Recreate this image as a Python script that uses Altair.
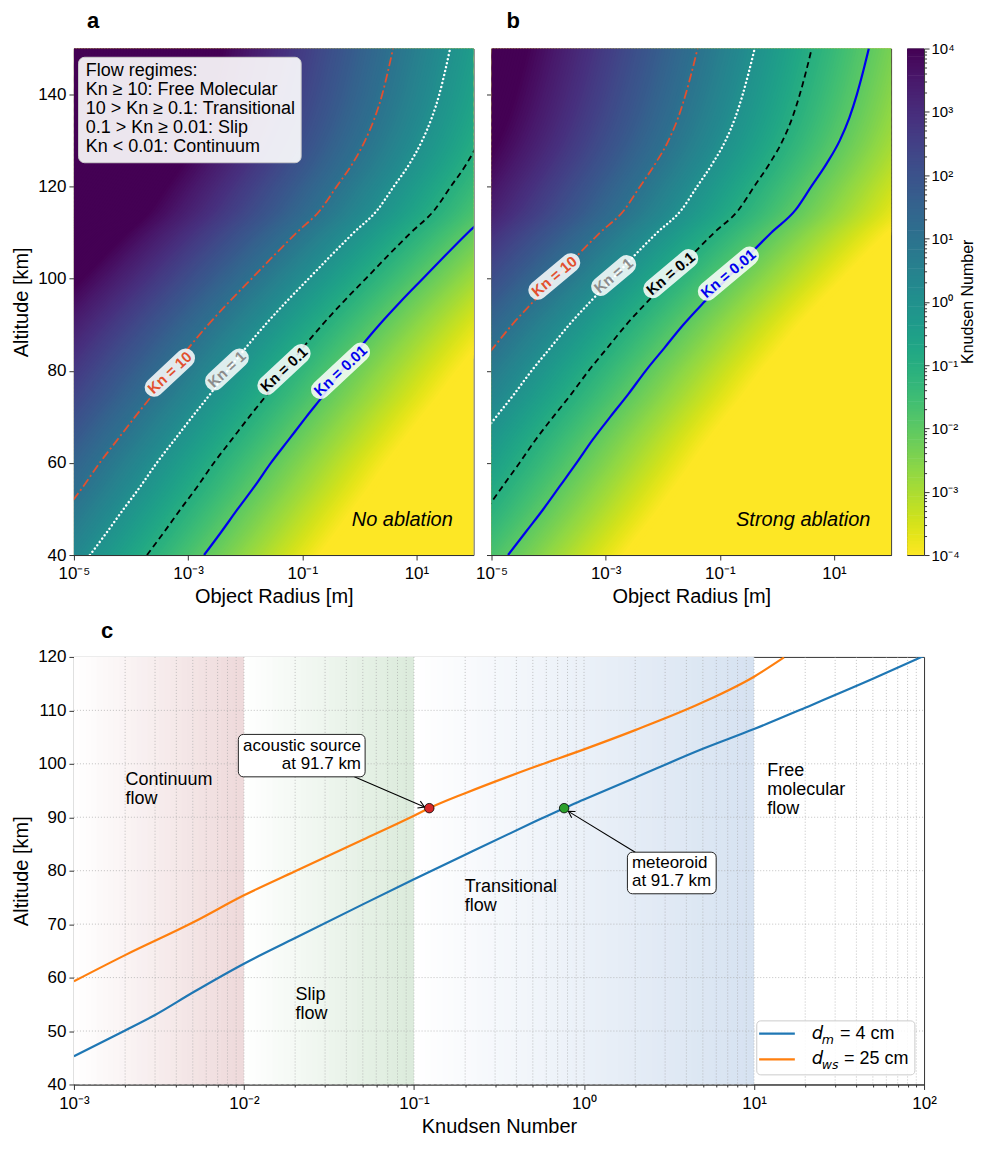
import altair as alt
import numpy as np
import pandas as pd

FONT = "Liberation Sans"

# ------------------------------------------------------------------
# Panels a & b : Knudsen number = mean free path / object radius.
# For each altitude, log10 of the object radius [m] at which Kn = 1
# (read from the contour lines of the picture).
# ------------------------------------------------------------------
altitude_km = [40, 45, 50, 55, 60, 65, 70, 75, 80, 85, 90, 95, 100,
               105, 110, 115, 120, 125, 130, 135, 140, 145, 150]
logR_kn1_no_ablation = [-4.72, -4.42, -4.13, -3.83, -3.55, -3.24, -2.93, -2.61, -2.31,
                        -1.99, -1.65, -1.28, -0.89, -0.50, -0.10, 0.32, 0.60, 0.88,
                        1.10, 1.27, 1.40, 1.50, 1.59]
logR_kn1_strong_ablation = [-6.71, -6.40, -6.09, -5.80, -5.51, -5.23, -4.92, -4.60, -4.30,
                            -3.97, -3.64, -3.27, -2.88, -2.50, -2.10, -1.67, -1.40, -1.13,
                            -0.90, -0.73, -0.60, -0.49, -0.39]

contour_kn = [10, 1, 0.1, 0.01]
contour_text = ["Kn = 10", "Kn = 1", "Kn = 0.1", "Kn = 0.01"]
label_logR_a = [-3.32, -2.32, -1.32, -0.33]
label_alt_a = [79.6, 80.3, 80.3, 80.0]
label_logR_b = [-3.90, -2.86, -1.86, -0.85]
label_alt_b = [100.5, 100.7, 101.1, 101.1]

regime_lines = ["Flow regimes:", "Kn \u2265 10: Free Molecular", "10 > Kn \u2265 0.1: Transitional",
                "0.1 > Kn \u2265 0.01: Slip", "Kn < 0.01: Continuum"]

radius_ticks = [1e-5, 1e-3, 1e-1, 1e1]
altitude_ticks_ab = [40, 60, 80, 100, 120, 140]
cbar_major = [1e-4, 1e-3, 1e-2, 1e-1, 1e0, 1e1, 1e2, 1e3, 1e4]
cbar_minor = [m * 10.0 ** e for e in range(-4, 4) for m in range(2, 10)]

# ------------------------------------------------------------------
# Panel c
# ------------------------------------------------------------------
kn_meteoroid = [0.001, 0.002, 0.003, 0.005, 0.01, 0.02, 0.05, 0.1, 0.2, 0.5, 0.764,
                1, 2, 5, 10, 20, 50, 100]
alt_meteoroid = [45.3, 50.1, 53.0, 57.2, 62.6, 67.4, 73.7, 78.4, 83.0, 89.0, 91.7,
                 93.3, 97.4, 102.8, 106.5, 110.5, 115.9, 120.2]
kn_source = [0.001, 0.002, 0.005, 0.01, 0.02, 0.05, 0.1, 0.123, 0.2, 0.5, 1, 2, 5, 10, 15]
alt_source = [59.3, 64.2, 70.3, 75.4, 79.9, 85.8, 90.3, 91.7, 94.5, 99.3, 102.7, 106.3,
              111.5, 116.3, 119.9]

marker_kn = [0.123, 0.764]
marker_alt = [91.7, 91.7]

regime_start = [1e-3, 1e-2, 1e-1]
regime_end = [1e-2, 1e-1, 1e1]

region_text = [["Continuum", "flow"], ["Slip", "flow"], ["Transitional", "flow"],
               ["Free", "molecular", "flow"]]
region_kn = [0.00201, 0.0201, 0.199, 11.97]
region_alt = [96.95, 56.74, 77.0, 98.6]

c_major = [1e-3, 1e-2, 1e-1, 1e0, 1e1, 1e2]
c_minor = [m * 10.0 ** e for e in range(-3, 2) for m in range(2, 10)]
c_alt_ticks = [40, 50, 60, 70, 80, 90, 100, 110, 120]

# ------------------------------------------------------------------
# styles / layout
# ------------------------------------------------------------------
W_A, W_B, H_AB, W_CB = 400, 400, 507, 17
GAP_AB, GAP_CB = 18, 16
W_C, H_C = W_A + GAP_AB + W_B + GAP_CB + W_CB, 428

contour_color = ["#e2502f", "#ffffff", "#000000", "#0000ee"]
label_color = ["#e2502f", "#8c8c8c", "#000000", "#0000ee"]
contour_dash = [[9, 3, 2, 3], [0.1, 4], [6, 4], None]
contour_width = [1.8, 2.4, 1.8, 2.2]
label_width_px = [54, 45, 58, 66]

SUP = "['\u2070','\u00b9','\u00b2','\u00b3','\u2074','\u2075','\u2076','\u2077','\u2078','\u2079']"
EXP = "round(log(datum.value)/LN10)"
POW = "'10' + (" + EXP + " < 0 ? '\u207b' : '') + " + SUP + "[abs(" + EXP + ")]"
IS_MAJOR = "abs(log(datum.value)/LN10 - " + EXP + ") < 0.001"
POW_MAJOR_ONLY = IS_MAJOR + " ? (" + POW + ") : ''"

CS = alt.Scale(scheme="viridis", reverse=True, domain=[-4, 4], clamp=True)
VIRIDIS_END = "#fde725"


def blend(tint, f):
    r, g, b = int(tint[1:3], 16), int(tint[3:5], 16), int(tint[5:7], 16)
    return "#%02x%02x%02x" % (round(255 + (r - 255) * f), round(255 + (g - 255) * f),
                              round(255 + (b - 255) * f))


def heat_panel(L, lab_logR, lab_alt, lab_ccw, letter, letter_dx, note, width, first):
    XS = alt.Scale(type="log", domain=[1e-5, 1e2], nice=False)
    YS = alt.Scale(domain=[40, 150], nice=False, zero=False)
    xax = alt.Axis(values=radius_ticks, labelExpr=POW, title="Object Radius [m]",
                   tickSize=5, labelPadding=6, titlePadding=5)
    if first:
        yax = alt.Axis(values=altitude_ticks_ab, title="Altitude [km]", tickSize=5,
                       labelPadding=3, titlePadding=6)
    else:
        yax = alt.Axis(values=altitude_ticks_ab, title=None, labels=False, tickSize=5)

    def X(f, **kw):
        return alt.X(f, type="quantitative", scale=XS, axis=xax, **kw)

    def Y(f):
        return alt.Y(f, type="quantitative", scale=YS, axis=yax)

    # background (Kn below the colour range)
    bg = alt.Chart(pd.DataFrame({"t": [0]})).mark_rect(color=VIRIDIS_END).encode(
        x=alt.value(0), x2=alt.value(width), y=alt.value(0), y2=alt.value(H_AB))

    # the field: iso-Kn lines every 0.05 decade, thick enough to tile the panel
    cmax = max(L) + 5.0 + 0.1
    levels = np.round(np.arange(-4.1, cmax, 0.05), 2)
    rows = []
    for c in levels:
        for h, l in zip(altitude_km, L):
            rows.append({"lvl": float(c), "kn_col": float(min(max(c, -4.0), 4.0)),
                         "alt": h, "r": 10 ** (l - c)})
    heat = alt.Chart(pd.DataFrame(rows)).mark_line(
        clip=True, strokeWidth=4.2, strokeCap="square", strokeJoin="round",
        interpolate="monotone").encode(
        x=X("r"), y=Y("alt"),
        color=alt.Color("kn_col:Q", scale=CS, legend=None),
        detail="lvl:Q", order=alt.Order("alt:Q"))
    layers = [bg, heat]

    for k, col, dash, wdt in zip(contour_kn, contour_color, contour_dash, contour_width):
        df = pd.DataFrame({"alt": altitude_km, "r": [10 ** (l - np.log10(k)) for l in L]})
        kw = dict(color=col, strokeWidth=wdt, clip=True, interpolate="monotone")
        if dash is not None:
            kw["strokeDash"] = dash
        if k == 1:
            kw["strokeCap"] = "round"
        layers.append(alt.Chart(df).mark_line(**kw).encode(
            x=X("r"), y=Y("alt"), order=alt.Order("alt:Q")))

    ppd = width / 7.0
    ppk = H_AB / 110.0
    th = np.radians(lab_ccw)
    for txt, lr, la, tw, tc in zip(contour_text, lab_logR, lab_alt, label_width_px, label_color):
        half = tw / 2 + 4 - 9.5
        dlr = np.cos(th) * half / ppd
        dal = np.sin(th) * half / ppk
        bgl = pd.DataFrame({"r1": [10 ** (lr - dlr)], "r2": [10 ** (lr + dlr)],
                            "a1": [la - dal], "a2": [la + dal]})
        layers.append(alt.Chart(bgl).mark_rule(color="white", opacity=0.85, strokeWidth=19,
                                               strokeCap="round").encode(
            x=X("r1"), x2="r2", y=Y("a1"), y2="a2"))
        td = pd.DataFrame({"r": [10 ** lr], "alt": [la], "t": [txt]})
        layers.append(alt.Chart(td).mark_text(color=tc, fontWeight="bold", fontSize=15,
                                              angle=360 - lab_ccw, align="center",
                                              baseline="middle").encode(
            x=X("r"), y=Y("alt"), text="t:N"))

    if first:
        box = pd.DataFrame({"r1": [10 ** -4.919], "r2": [10 ** -1.02], "a1": [125.2], "a2": [148.1]})
        layers.append(alt.Chart(box).mark_rect(fill="white", fillOpacity=0.9, stroke="#cccccc",
                                               strokeWidth=1, cornerRadius=6).encode(
            x=X("r1"), x2="r2", y=Y("a1"), y2="a2"))
        lg = pd.DataFrame({"t": [regime_lines], "r": [10 ** -4.793], "alt": [145.06]})
        layers.append(alt.Chart(lg).mark_text(align="left", baseline="middle", fontSize=18,
                                              lineHeight=19, color="black").encode(
            x=X("r"), y=Y("alt"), text="t"))

    nd = pd.DataFrame({"t": [note], "r": [10 ** 1.637], "alt": [46.2]})
    layers.append(alt.Chart(nd).mark_text(align="right", baseline="alphabetic", fontSize=20,
                                          fontStyle="italic", color="black").encode(
        x=X("r"), y=Y("alt"), text="t:N"))

    return alt.layer(*layers).properties(
        width=width, height=H_AB,
        title=alt.TitleParams(letter, anchor="start", frame="group", dx=letter_dx, offset=16,
                              fontSize=22, fontWeight="bold", font=FONT, color="black"))


panel_a = heat_panel(logR_kn1_no_ablation, label_logR_a, label_alt_a, 43, "a", 13,
                     "No ablation", W_A, True)
panel_b = heat_panel(logR_kn1_strong_ablation, label_logR_b, label_alt_b, 40, "b", 15,
                     "Strong ablation", W_B, False)

# ---------------- colour bar ----------------
cb_vals = np.round(np.arange(-4.0, 4.0001, 0.05), 2)
cb_df = pd.DataFrame({"kn_col": cb_vals, "lo": 10 ** (cb_vals - 0.03), "hi": 10 ** (cb_vals + 0.03)})
cb_axis = alt.Axis(orient="right", values=cbar_major + cbar_minor, labelExpr=POW_MAJOR_ONLY,
                   tickSize={"condition": {"test": IS_MAJOR, "value": 5}, "value": 2.5},
                   title=None, domain=False, labelPadding=2, labelFontSize=15)
cbar_rect = alt.Chart(cb_df).mark_rect(clip=True).encode(
    x=alt.value(0), x2=alt.value(W_CB),
    y=alt.Y("lo:Q", scale=alt.Scale(type="log", domain=[1e-4, 1e4], nice=False), axis=cb_axis),
    y2="hi", color=alt.Color("kn_col:Q", scale=CS, legend=None))
cbar_title = alt.Chart(pd.DataFrame({"t": ["Knudsen Number"]})).mark_text(
    angle=270, fontSize=16, align="center", baseline="middle", color="black").encode(
    text="t:N", x=alt.value(W_CB + 44), y=alt.value(H_AB / 2))
cbar_pad = alt.Chart(pd.DataFrame({"t": [0]})).mark_rule(strokeOpacity=0, opacity=0).encode(
    x=alt.value(-GAP_CB + 2), x2=alt.value(0), y=alt.value(2))
cbar = alt.layer(cbar_rect, cbar_title, cbar_pad).properties(width=W_CB, height=H_AB)

# ---------------- panel c ----------------
XS_C = alt.Scale(type="log", domain=[1e-3, 1e2], nice=False)
YS_C = alt.Scale(domain=[40, 120], nice=False, zero=False)
xax_c = alt.Axis(values=c_major + c_minor, labelExpr=POW_MAJOR_ONLY,
                 tickSize={"condition": {"test": IS_MAJOR, "value": 5}, "value": 2.5},
                 title="Knudsen Number", labelPadding=6, titlePadding=5)
yax_c = alt.Axis(values=c_alt_ticks, title="Altitude [km]", tickSize=5, labelPadding=3,
                 titlePadding=6)


def XC(f):
    return alt.X(f, type="quantitative", scale=XS_C, axis=xax_c)


def YC(f):
    return alt.Y(f, type="quantitative", scale=YS_C, axis=yax_c)


regime_tint = ["#eed9da", "#dbebdb", "#d6e2f1"]
strips = []
for s, e, tint in zip(regime_start, regime_end, regime_tint):
    dec = np.log10(e / s)
    n = int(round(30 * dec))
    for i in range(n):
        x1 = s * 10 ** (i * dec / n)
        x2 = min(e, s * 10 ** ((i + 1.5) * dec / n))
        strips.append({"x1": x1, "x2": x2, "col": blend(tint, (i + 0.5) / n)})
shade = alt.Chart(pd.DataFrame(strips)).mark_rect(clip=True).encode(
    x=XC("x1"), x2="x2", y=alt.value(0), y2=alt.value(H_C),
    color=alt.Color("col:N", scale=None))

grid_v = alt.Chart(pd.DataFrame({"g": [v for v in c_major + c_minor if 1e-3 < v < 1e2]})).mark_rule(
    color="#a8a8a8", strokeWidth=0.7, strokeDash=[1, 2]).encode(
    x=XC("g"), y=alt.value(0), y2=alt.value(H_C))
grid_h = alt.Chart(pd.DataFrame({"g": c_alt_ticks[1:-1]})).mark_rule(
    color="#a8a8a8", strokeWidth=0.7, strokeDash=[1, 2]).encode(
    y=YC("g"), x=alt.value(0), x2=alt.value(W_C))

line_m = alt.Chart(pd.DataFrame({"kn": kn_meteoroid, "alt": alt_meteoroid})).mark_line(
    color="#1f77b4", strokeWidth=2.2, clip=True, interpolate="monotone").encode(
    x=XC("kn"), y=YC("alt"), order=alt.Order("kn:Q"))
line_s = alt.Chart(pd.DataFrame({"kn": kn_source, "alt": alt_source})).mark_line(
    color="#ff7f0e", strokeWidth=2.2, clip=True, interpolate="monotone").encode(
    x=XC("kn"), y=YC("alt"), order=alt.Order("kn:Q"))

arrows = pd.DataFrame({"x1": [0.0446, 2.0], "y1": [97.56, 83.46],
                       "x2": [0.1153, 0.809], "y2": [91.92, 91.1], "ang": [23.4, 211.5]})
arrow_lines = alt.Chart(arrows).mark_rule(color="black", strokeWidth=1.1).encode(
    x=XC("x1"), x2="x2", y=YC("y1"), y2="y2")
arrow_heads = alt.Chart(arrows).mark_point(shape="M -1 -0.6 L 0 0 L -1 0.6", filled=False,
                                           color="black", strokeWidth=1.1, size=150, opacity=1).encode(
    x=XC("x2"), y=YC("y2"), angle=alt.Angle("ang:Q", scale=None))

dots = alt.Chart(pd.DataFrame({"kn": marker_kn, "alt": marker_alt,
                               "col": ["#d62728", "#2ca02c"]})).mark_point(
    filled=True, size=90, stroke="black", strokeWidth=0.8, opacity=1).encode(
    x=XC("kn"), y=YC("alt"), fill=alt.Fill("col:N", scale=None))

boxes = alt.Chart(pd.DataFrame({"x1": [0.00927, 1.80], "x2": [0.0516, 5.99],
                                "y1": [97.56, 75.68], "y2": [105.5, 83.46]})).mark_rect(
    fill="white", stroke="#222222", strokeWidth=1, cornerRadius=5).encode(
    x=XC("x1"), x2="x2", y=YC("y1"), y2="y2")
box_text_r = alt.Chart(pd.DataFrame({"t": [["acoustic source", "at 91.7 km"]], "kn": [0.0488],
                                     "alt": [103.4]})).mark_text(
    align="right", baseline="middle", fontSize=17, lineHeight=18.5, color="black").encode(
    x=XC("kn"), y=YC("alt"), text="t")
box_text_l = alt.Chart(pd.DataFrame({"t": [["meteoroid", "at 91.7 km"]], "kn": [1.914],
                                     "alt": [81.5]})).mark_text(
    align="left", baseline="middle", fontSize=17, lineHeight=18.5, color="black").encode(
    x=XC("kn"), y=YC("alt"), text="t")

regions = alt.Chart(pd.DataFrame({"t": region_text, "kn": region_kn, "alt": region_alt})).mark_text(
    align="left", baseline="middle", fontSize=18, lineHeight=19, color="black").encode(
    x=XC("kn"), y=YC("alt"), text="t")

leg_box = alt.Chart(pd.DataFrame({"x1": [10 ** 1.016], "x2": [10 ** 1.946],
                                  "y1": [41.8], "y2": [51.9]})).mark_rect(
    fill="white", fillOpacity=0.85, stroke="#cccccc", strokeWidth=1, cornerRadius=4).encode(
    x=XC("x1"), x2="x2", y=YC("y1"), y2="y2")
leg_l1 = alt.Chart(pd.DataFrame({"x1": [10 ** 1.03], "x2": [10 ** 1.24], "y": [49.5]})).mark_rule(
    color="#1f77b4", strokeWidth=2.2).encode(x=XC("x1"), x2="x2", y=YC("y"))
leg_l2 = alt.Chart(pd.DataFrame({"x1": [10 ** 1.03], "x2": [10 ** 1.24], "y": [44.7]})).mark_rule(
    color="#ff7f0e", strokeWidth=2.2).encode(x=XC("x1"), x2="x2", y=YC("y"))
leg_d = alt.Chart(pd.DataFrame({"t": ["d", "d"], "kn": [10 ** 1.34] * 2, "alt": [49.5, 44.7]})).mark_text(
    align="left", baseline="middle", fontSize=18, fontStyle="italic", font="DejaVu Sans",
    color="black").encode(x=XC("kn"), y=YC("alt"), text="t:N")
leg_sub = alt.Chart(pd.DataFrame({"t": ["m", "ws"], "kn": [10 ** 1.399] * 2,
                                  "alt": [48.4, 43.6]})).mark_text(
    align="left", baseline="middle", fontSize=12.5, fontStyle="italic", font="DejaVu Sans",
    color="black").encode(x=XC("kn"), y=YC("alt"), text="t:N")
leg_rest = alt.Chart(pd.DataFrame({"t": ["= 4 cm", "= 25 cm"], "kn": [10 ** 1.506, 10 ** 1.529],
                                   "alt": [49.5, 44.7]})).mark_text(
    align="left", baseline="middle", fontSize=18, color="black").encode(
    x=XC("kn"), y=YC("alt"), text="t:N")

panel_c = alt.layer(shade, grid_v, grid_h, line_m, line_s, arrow_lines, arrow_heads, dots,
                    boxes, box_text_r, box_text_l, regions, leg_box, leg_l1, leg_l2,
                    leg_d, leg_sub, leg_rest).properties(
    width=W_C, height=H_C,
    title=alt.TitleParams("c", anchor="start", frame="group", dx=27, offset=5,
                          fontSize=22, fontWeight="bold", font=FONT, color="black"))

top = alt.hconcat(panel_a, panel_b, cbar, spacing=0)
chart = alt.vconcat(top, panel_c, spacing=11).resolve_scale(color="independent").properties(
    padding={"left": 3, "top": 0, "right": 0, "bottom": 0})

chart = chart.configure_view(stroke="#333333", strokeWidth=1).configure_axis(
    labelFont=FONT, labelFontSize=17, labelColor="black", titleFont=FONT, titleFontSize=20,
    titleFontWeight="normal", titleColor="black", domainColor="#333333", tickColor="#333333",
    grid=False, labelFlush=False, labelOverlap=False).configure_text(font=FONT).configure_title(
    font=FONT)

chart.save("out.html", embed_options={"renderer": "svg", "actions": False})
